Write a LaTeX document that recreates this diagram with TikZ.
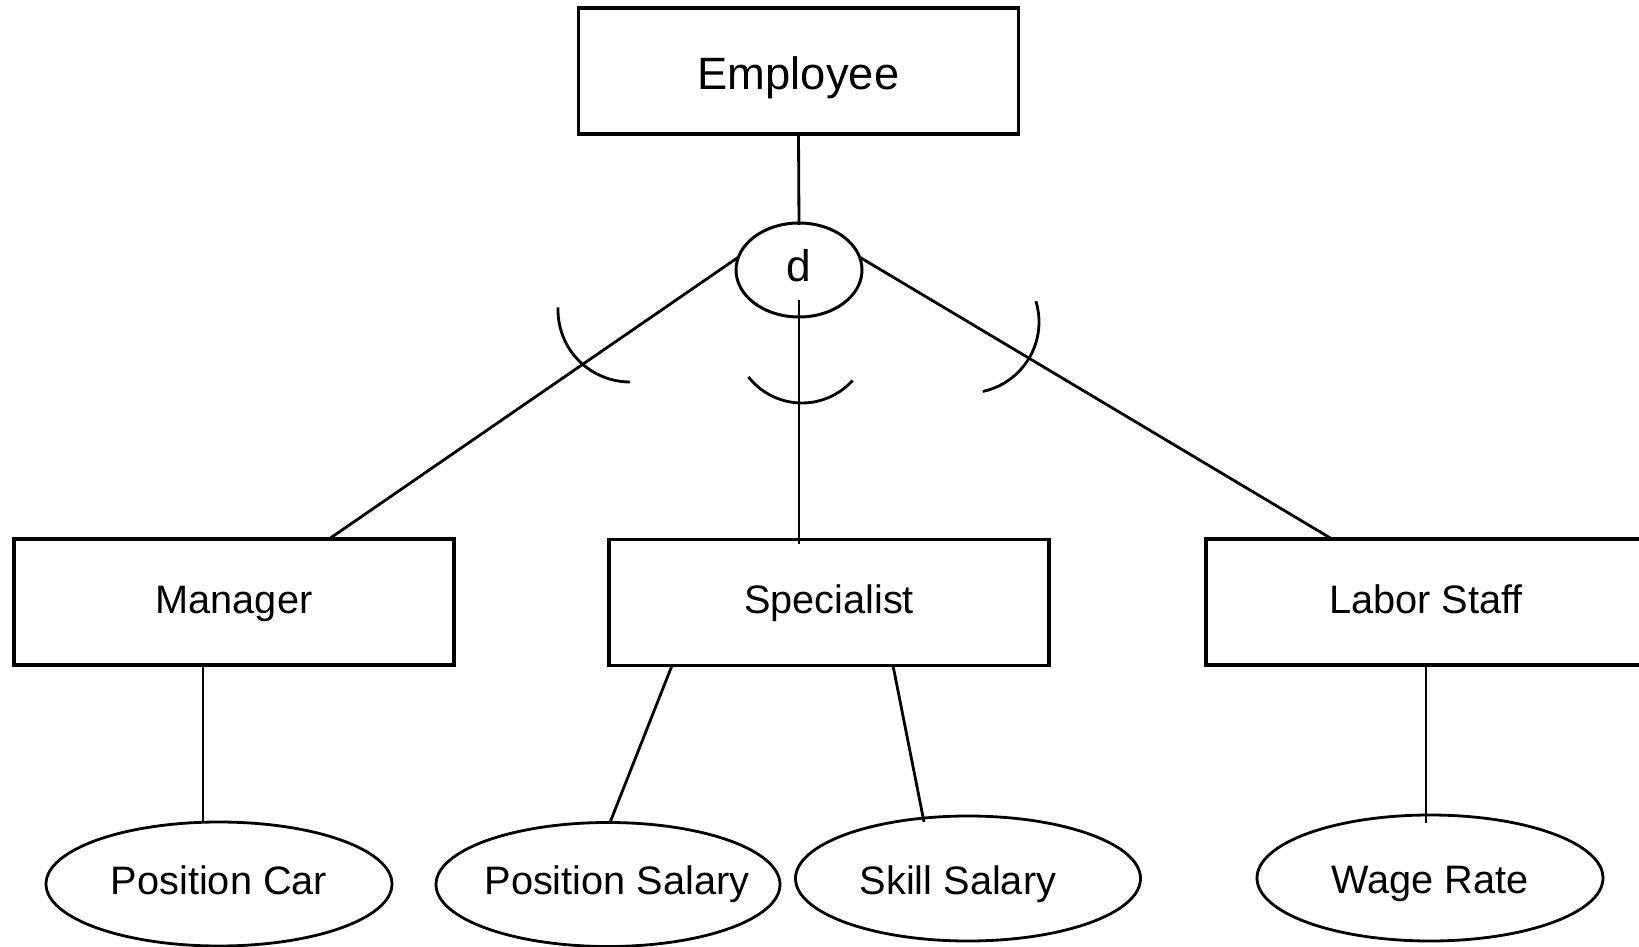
\documentclass[tikz,border=0pt]{standalone}
\usepackage{fontspec}
\setmainfont{Liberation Sans}
\usetikzlibrary{shapes.geometric}
\newcommand{\zw}[2][0cm]{\hspace*{#1}\makebox[0pt]{#2}\hspace*{-#1}}
\begin{document}
\begin{tikzpicture}[
  entbox/.style={draw, rectangle, line width=0.88pt, minimum width=4.40cm, minimum height=1.26cm, inner sep=0pt, outer sep=0pt, text height=0.30cm, text depth=0.08cm, font=\fontsize{11.3}{13}\selectfont},
  attr/.style={draw, ellipse, line width=0.8pt, minimum width=3.46cm, minimum height=1.24cm, inner sep=0pt, outer sep=0pt, text height=0.29cm, text depth=0.09cm, font=\fontsize{11.3}{13}\selectfont},
  disj/.style={draw, ellipse, line width=0.85pt, minimum width=1.26cm, minimum height=0.94cm, inner sep=0pt, outer sep=0pt, text height=0.31cm, text depth=0.07cm, font=\fontsize{12.6}{14}\selectfont},
  link/.style={draw, line width=0.8pt}
]
\useasboundingbox (0,0) rectangle (16.39,-9.47);
\node[entbox, text height=0.43cm, text depth=0.05cm, font=\fontsize{12.9}{15}\selectfont] (emp) at (7.985,-0.71) {Employee};
\node[disj] (d) at (7.99,-2.70) {d};
\node[entbox] (man) at (2.34,-6.02) {Manager};
\node[entbox] (spec) at (8.29,-6.025) {Specialist};
\node[entbox] (lab) at (14.26,-6.02) {Labor Staff};
\node[attr] (pc) at (2.19,-8.84) {\zw{Position Car}};
\node[attr, minimum width=3.44cm] (ps) at (6.08,-8.845) {\zw[0.09cm]{Position Salary}};
\node[attr, minimum width=3.45cm, minimum height=1.25cm, text height=0.40cm] (ss) at (9.68,-8.785) {\zw[-0.10cm]{Skill Salary}};
\node[attr, minimum height=1.26cm, text height=0.40cm] (wr) at (14.30,-8.78) {\zw{Wage Rate}};
% connectors
\draw[link] (emp.south) -- ([yshift=-0.02cm]d.north);
\draw[link] (d.168) -- ([xshift=0.95cm]man.north);
\draw[link] (d.12) -- ([xshift=-0.94cm]lab.north);
\draw[link] ([yshift=-0.30cm]d.center) -- ([yshift=-0.04cm]d.center |- spec.north);
\draw[link] ([xshift=-0.31cm]man.south) -- ([xshift=-0.31cm]man.south |- pc.north);
\draw[link] ([xshift=-1.57cm]spec.south) -- ([xshift=0.02cm]ps.north);
\draw[link] ([xshift=0.64cm]spec.south) -- ([xshift=-0.44cm,yshift=-0.06cm]ss.north);
\draw[link] (lab.south) -- ([yshift=-0.08cm]lab.south |- wr.north);
% disjoint arcs
\draw[link] (6.30,-3.10) ++(178:0.72) arc[start angle=178, end angle=270, radius=0.72];
\draw[link] (8.02,-3.35) ++(218:0.68) arc[start angle=218, end angle=318, radius=0.68];
\draw[link] (9.68,-3.22) ++(17:0.71) arc[start angle=17, end angle=-78, radius=0.71];
\end{tikzpicture}
\end{document}
